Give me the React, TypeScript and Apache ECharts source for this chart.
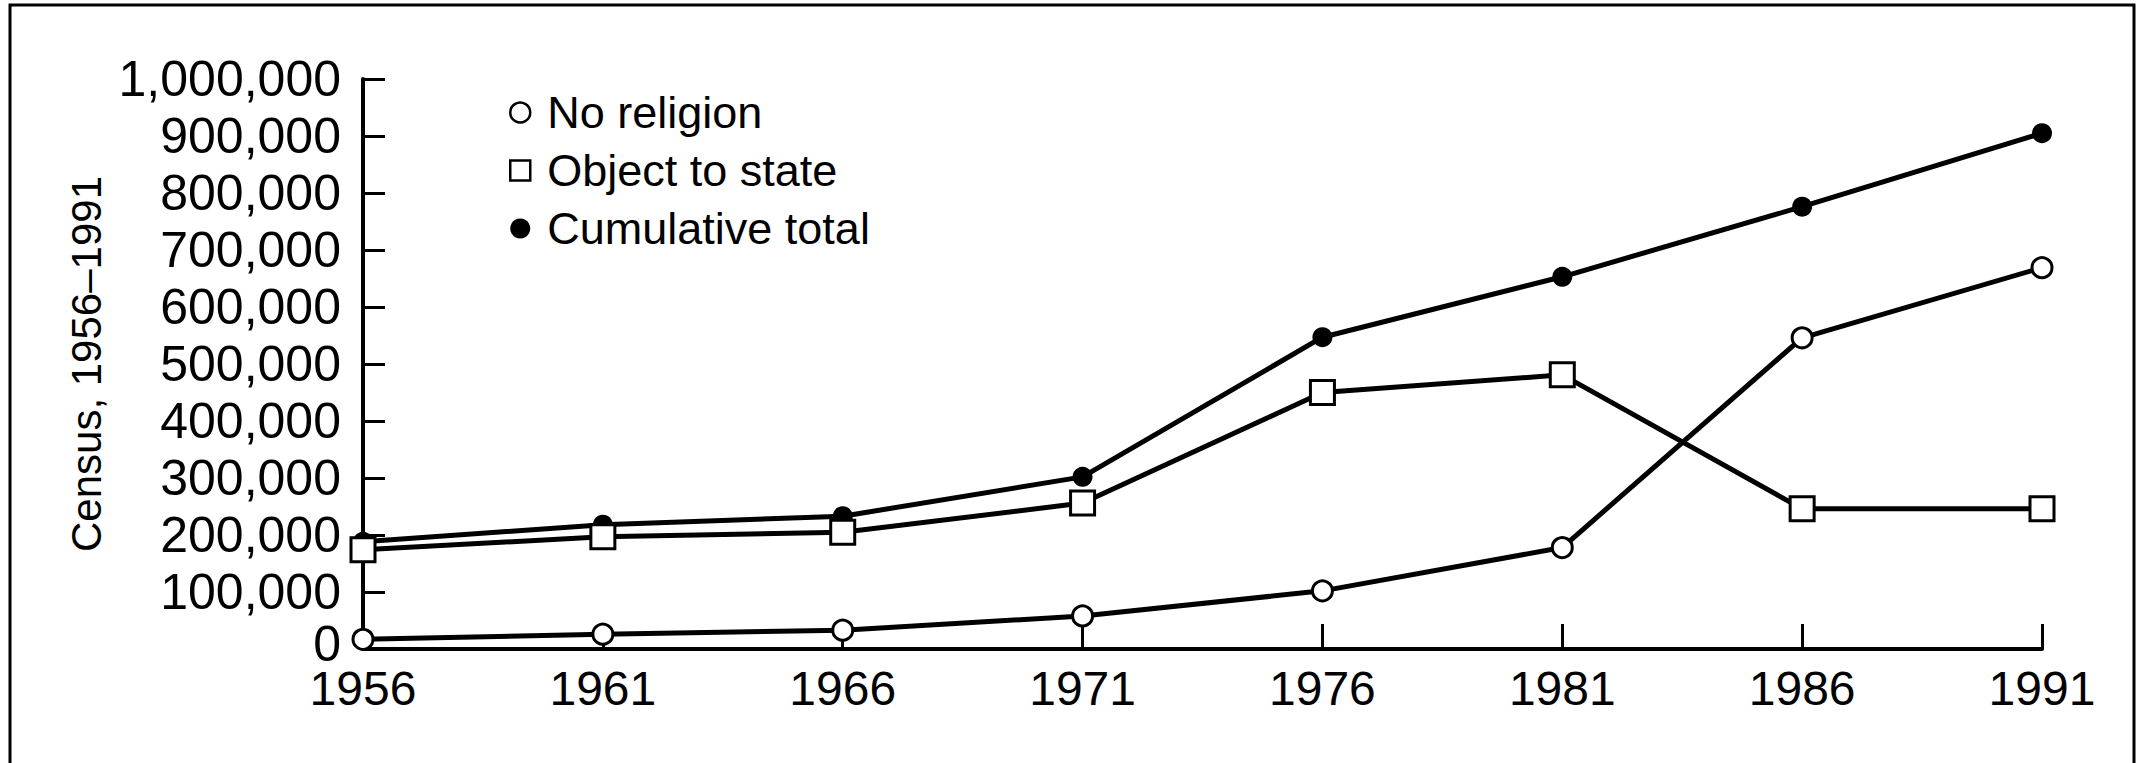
import React, { useEffect, useRef } from "react";
import * as echarts from "echarts";

const years = ["1956", "1961", "1966", "1971", "1976", "1981", "1986", "1991"];
const noReligion = [17000, 26000, 33000, 58000, 102000, 178000, 546000, 669000];
const objectToState = [174000, 197000, 205000, 256000, 450000, 481000, 246000, 246000];
const cumulativeTotal = [188000, 218000, 233000, 302000, 547000, 653000, 776000, 905000];

const FONT = "'Liberation Sans', Arial, Helvetica, sans-serif";

function fmt(v: number) {
  return String(v).replace(/\B(?=(\d{3})+(?!\d))/g, ",");
}

export default function App() {
  const ref = useRef<HTMLDivElement>(null);
  useEffect(() => {
    document.body.style.margin = "0";
    const chart = echarts.init(ref.current!, null, { renderer: "svg" });
    const openStyle = { color: "#fff", borderColor: "#000", borderWidth: 3 };
    chart.setOption({
      animation: false,
      backgroundColor: "#fff",
      grid: { left: 363, right: 105, top: 79, bottom: 114 },
      legend: {
        orient: "vertical",
        left: 504,
        top: 85,
        itemWidth: 20,
        itemHeight: 20,
        itemGap: 13,
        selectedMode: false,
        textStyle: { fontFamily: FONT, fontSize: 45, color: "#000", lineHeight: 44, padding: [0, 0, 0, 12] },
        data: [
          { name: "No religion", icon: "circle", itemStyle: { color: "#fff", borderColor: "#000", borderWidth: 2.5 } },
          { name: "Object to state", icon: "rect", itemStyle: { color: "#fff", borderColor: "#000", borderWidth: 2.5 } },
          { name: "Cumulative total", icon: "circle", itemStyle: { color: "#000", borderColor: "#000", borderWidth: 0 } },
        ],
      },
      xAxis: {
        type: "category",
        data: years,
        boundaryGap: false,
        axisLine: { lineStyle: { color: "#000", width: 4 } },
        axisTick: { inside: true, length: 25, lineStyle: { color: "#000", width: 3 } },
        axisLabel: { color: "#000", fontFamily: FONT, fontSize: 48, lineHeight: 36, margin: 21 },
      },
      yAxis: {
        type: "value",
        min: 0,
        max: 1000000,
        interval: 100000,
        name: "Census, 1956–1991",
        nameLocation: "middle",
        nameRotate: 90,
        nameGap: 255,
        nameTextStyle: { color: "#000", fontFamily: FONT, fontSize: 42 },
        splitLine: { show: false },
        axisLine: { show: true, lineStyle: { color: "#000", width: 4 } },
        axisTick: { show: true, inside: true, length: 22, lineStyle: { color: "#000", width: 3 } },
        axisLabel: {
          color: "#000",
          fontFamily: FONT,
          fontSize: 50,
          lineHeight: 34,
          margin: 22,
          formatter: (v: number) => (v === 0 ? "{z|0}" : fmt(v)),
          rich: { z: { fontFamily: FONT, fontSize: 50, lineHeight: 34, color: "#000", padding: [0, 0, 10, 0] } },
        },
      },
      graphic: [
        {
          type: "polyline",
          shape: { points: [[10, 763], [10, 5], [2134, 5], [2134, 763]] },
          style: { stroke: "#000", lineWidth: 3, fill: "none" },
          silent: true,
        },
      ],
      series: [
        {
          name: "Cumulative total",
          type: "line",
          data: cumulativeTotal,
          symbol: "circle",
          symbolSize: 20,
          itemStyle: { color: "#000" },
          lineStyle: { color: "#000", width: 5 },
          z: 2,
        },
        {
          name: "Object to state",
          type: "line",
          data: objectToState,
          symbol: "rect",
          symbolSize: 24,
          itemStyle: openStyle,
          lineStyle: { color: "#000", width: 5 },
          z: 3,
        },
        {
          name: "No religion",
          type: "line",
          data: noReligion,
          symbol: "circle",
          symbolSize: 20,
          itemStyle: openStyle,
          lineStyle: { color: "#000", width: 5 },
          z: 4,
        },
      ],
    });
    return () => chart.dispose();
  }, []);
  return <div ref={ref} style={{ position: "absolute", left: 0, top: 0, width: 2147, height: 763 }} />;
}
